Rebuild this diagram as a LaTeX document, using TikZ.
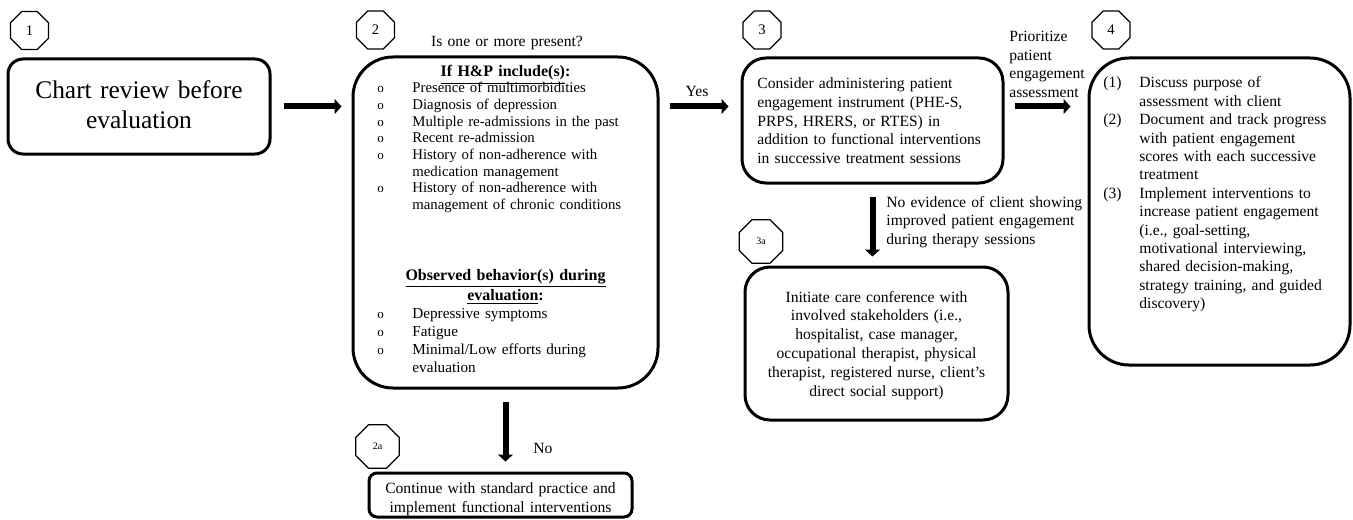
\documentclass[tikz,border=0pt]{standalone}
\usepackage{fontspec}
\setmainfont{Liberation Serif}
\usetikzlibrary{arrows.meta,shapes.geometric,fit}

\newcommand{\bitem}[1]{\hangindent=17.5pt\hangafter=1\noindent\makebox[17.5pt][l]{\fontsize{6.5}{6}\selectfont o}#1\par}
\newcommand{\nitem}[2]{\hangindent=18pt\hangafter=1\noindent\makebox[18pt][l]{#1}#2\par}

\tikzset{
  stepbox/.style={draw, line width=1.5pt, inner sep=0pt},
  octo/.style={draw, line width=0.6pt, regular polygon, regular polygon sides=8, minimum size=20.5pt, inner sep=0pt, font=\fontsize{7.3}{8}\selectfont},
  smalloct/.style={octo, minimum size=23.5pt, font=\fontsize{5}{6}\selectfont},
  bigarrow/.style={line width=3pt, -{Triangle[width=7.5pt,length=3.5pt]}},
  txt/.style={inner sep=0pt, anchor=base west, align=left},
  ctxt/.style={inner sep=0pt, anchor=base, align=center},
}

\begin{document}
\begin{tikzpicture}[x=0.5pt,y=0.5pt,yscale=-1,xscale=1]
            \useasboundingbox (0,0) rectangle (1353,519);

            %Shape: Octagon [step numbers]
            \node (o1) [octo] at (29.5,30.5) {1};
            \node (o2) [octo] at (375.5,30) {2};
            \node (o2a) [smalloct] at (377.5,446.5) {2a};
            \node (o3) [octo] at (762,30) {3};
            \node (o3a) [smalloct] at (761,241.5) {3a};
            \node (o4) [octo] at (1111,30) {4};

            %Shape: Rounded Rect [boxes]
            \node (b1) [stepbox, rounded corners=7.5pt, fit={(8,59) (270,154)}] {};
            \node (b2) [stepbox, rounded corners=20pt, fit={(353,57) (658,388)}] {};
            \node (b2a) [stepbox, rounded corners=4pt, fit={(369,473) (632,517)}] {};
            \node (b3) [stepbox, rounded corners=12pt, fit={(742,58) (1003,183)}] {};
            \node (b3a) [stepbox, rounded corners=12.5pt, fit={(745,267) (1008,420)}] {};
            \node (b4) [stepbox, rounded corners=20pt, fit={(1089,58) (1350,365)}] {};

            % Text Node
            \node (t1) [ctxt, text width=125pt, font=\fontsize{12.7}{15}\selectfont] at (139,98) {Chart review before\\evaluation};
            % Text Node
            \node (q2) [ctxt, text width=100pt, font=\fontsize{7.8}{9}\selectfont] at (507,47) {Is one or more present?};
            % Text Node
            \node (h2) [ctxt, text width=120pt, font=\fontsize{8}{9}\selectfont\bfseries] at (505.5,77) {\underline{If H\&P include(s)}:};
            % Text Node
            \node (l2) [txt, text width=135pt, font=\fontsize{7.4}{8.3}\selectfont] at (377,93) {%
              \bitem{Presence of multimorbidities}%
              \bitem{Diagnosis of depression}%
              \bitem{Multiple re-admissions in the past}%
              \bitem{Recent re-admission}%
              \bitem{History of non-adherence with\newline medication management}%
              \bitem{History of non-adherence with\newline management of chronic conditions}};
            % Text Node
            \node (h2b) [ctxt, text width=120pt, font=\fontsize{8}{9}\selectfont\bfseries] at (505.5,280) {\underline{Observed behavior(s) during}\\\underline{evaluation}:};
            % Text Node
            \node (l2b) [txt, text width=135pt, font=\fontsize{7.6}{9.1}\selectfont] at (377,318) {%
              \bitem{Depressive symptoms}%
              \bitem{Fatigue}%
              \bitem{Minimal/Low efforts during\newline evaluation}};
            % Text Node
            \node (t2a) [ctxt, text width=125pt, font=\fontsize{7.8}{9.5}\selectfont] at (500.5,493) {Continue with standard practice and\\implement functional interventions};
            % Text Node
            \node (yes) [ctxt, font=\fontsize{7.8}{9}\selectfont] at (697,97) {Yes};
            % Text Node
            \node (no) [ctxt, font=\fontsize{7.8}{9}\selectfont] at (543,453) {No};
            % Text Node
            \node (t3) [txt, text width=122pt, font=\fontsize{7.8}{9.3}\selectfont] at (757,89) {Consider administering patient\\engagement instrument (PHE-S,\\PRPS, HRERS, or RTES) in\\addition to functional interventions\\in successive treatment sessions};
            % Text Node
            \node (lbl3) [txt, text width=115pt, font=\fontsize{7.8}{9.25}\selectfont] at (886,207) {No evidence of client showing\\improved patient engagement\\during therapy sessions};
            % Text Node
            \node (t3a) [ctxt, text width=122pt, font=\fontsize{7.8}{9.4}\selectfont] at (876.5,302) {Initiate care conference with\\involved stakeholders (i.e.,\\hospitalist, case manager,\\occupational therapist, physical\\therapist, registered nurse, client’s\\direct social support)};
            % Text Node
            \node (lbl4) [txt, text width=45pt, font=\fontsize{7.8}{9.25}\selectfont] at (1009,42) {Prioritize\\patient\\engagement\\assessment};
            % Text Node
            \node (t4) [txt, text width=118pt, font=\fontsize{7.8}{9.2}\selectfont] at (1103,88) {%
              \nitem{(1)}{Discuss purpose of\newline assessment with client}%
              \nitem{(2)}{Document and track progress\newline with patient engagement\newline scores with each successive\newline treatment}%
              \nitem{(3)}{Implement interventions to\newline increase patient engagement\newline (i.e., goal-setting,\newline motivational interviewing,\newline shared decision-making,\newline strategy training, and guided\newline discovery)}};

            %Straight Lines [arrows]
            \draw [bigarrow, shorten <=6pt, shorten >=5pt] (b1.east) -- (b1.east -| b2.west);
            \draw [bigarrow, shorten <=5pt, shorten >=6pt] (b2.east |- b1.east) -- (b3.west |- b1.east);
            \draw [bigarrow, shorten <=5pt, shorten >=8.5pt] (b3.east |- b1.east) -- (b4.west |- b1.east);
            \draw [bigarrow, shorten <=6pt, shorten >=5pt] (b2.south) -- (b2.south |- b2a.north);
            \draw [bigarrow, shorten <=6pt, shorten >=4.5pt] (b3.south) -- (b3.south |- b3a.north);
\end{tikzpicture}
\end{document}
